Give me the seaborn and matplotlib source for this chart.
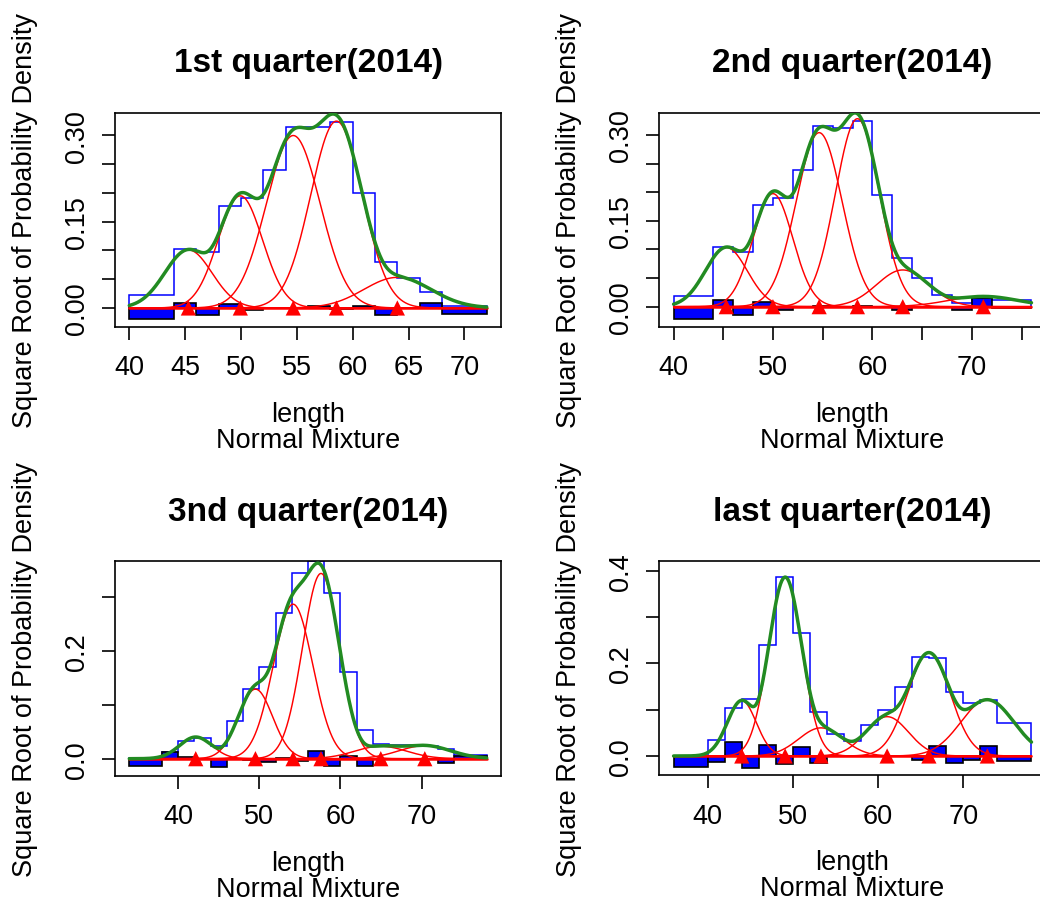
import numpy as np
import matplotlib
matplotlib.use("Agg")
import matplotlib.pyplot as plt
import seaborn as sns

# ---------------- data ----------------
titles = ["1st quarter(2014)", "2nd quarter(2014)", "3nd quarter(2014)", "last quarter(2014)"]

# 1st quarter
q1_edges = [40, 44, 46, 48, 50, 52, 54, 56, 58, 60, 62, 64, 66, 68, 72]
q1_hist = [0.0226, 0.1024, 0.0978, 0.1777, 0.1904, 0.2402, 0.3148, 0.3142, 0.3235,
           0.1997, 0.0793, 0.0515, 0.0284, 0.0040]
q1_resid = [-0.0191, 0.0093, -0.0116, 0.0070, -0.0040, 0.0, 0.0, 0.0030, -0.0010,
            0.0030, -0.0120, 0.0, 0.0090, -0.0100]
q1_prop = [0.038, 0.134, 0.382, 0.430, 0.015]
q1_mean = [45.29, 49.94, 54.68, 58.55, 64.00]
q1_sd = [1.49, 1.41, 1.70, 1.63, 2.12]
q1_xticks = [40, 45, 50, 55, 60, 65, 70]
q1_xlabels = ["40", "45", "50", "55", "60", "65", "70"]
q1_yticks = [0.0, 0.05, 0.10, 0.15, 0.20, 0.25, 0.30]
q1_ylabels = ["0.00", "", "", "0.15", "", "", "0.30"]
q1_ylim = (-0.0325, 0.3385)

# 2nd quarter
q2_edges = [40, 44, 46, 48, 50, 52, 54, 56, 58, 60, 62, 64, 66, 68, 70, 72, 76]
q2_hist = [0.0192, 0.1049, 0.0961, 0.1777, 0.1894, 0.2394, 0.3163, 0.3122, 0.3250,
           0.1957, 0.0846, 0.0496, 0.0204, 0.0060, 0.0147, 0.0117]
q2_resid = [-0.0215, 0.0117, -0.0140, 0.0080, -0.0050, 0.0, 0.0010, 0.0, 0.0020,
            0.0, -0.0060, 0.0, 0.0, -0.0060, 0.0147, -0.0030]
q2_prop = [0.040, 0.138, 0.378, 0.422, 0.019, 0.002]
q2_mean = [45.30, 49.99, 54.64, 58.49, 63.05, 71.16]
q2_sd = [1.49, 1.41, 1.63, 1.56, 1.84, 2.47]
q2_xticks = [40, 45, 50, 55, 60, 65, 70, 75]
q2_xlabels = ["40", "", "50", "", "60", "", "70", ""]
q2_yticks = [0.0, 0.05, 0.10, 0.15, 0.20, 0.25, 0.30]
q2_ylabels = ["0.00", "", "", "0.15", "", "", "0.30"]
q2_ylim = (-0.035, 0.3385)

# 3rd quarter
q3_edges = [34, 38, 40, 42, 44, 46, 48, 50, 52, 54, 56, 58, 60, 62, 64, 66, 68, 70, 72, 74, 78]
q3_hist = [0.0020, 0.0120, 0.0333, 0.0383, 0.0241, 0.0693, 0.1290, 0.1704, 0.2692, 0.3433,
           0.3655, 0.3063, 0.1611, 0.0531, 0.0270, 0.0250, 0.0260, 0.0240, 0.0180, 0.0060]
q3_resid = [-0.0130, 0.0117, 0.0040, 0.0, -0.0160, 0.0, -0.0030, -0.0055, 0.0020, -0.0040,
            0.0142, -0.0130, 0.0055, -0.0130, 0.0, 0.0, 0.0, 0.0, -0.0080, 0.0056]
q3_prop = [0.0057, 0.062, 0.353, 0.472, 0.0030, 0.0033]
q3_mean = [42.18, 49.53, 54.16, 57.60, 64.96, 70.38]
q3_sd = [1.41, 1.49, 1.72, 1.60, 2.26, 2.26]
q3_xticks = [40, 50, 60, 70]
q3_xlabels = ["40", "50", "60", "70"]
q3_yticks = [0.0, 0.1, 0.2, 0.3]
q3_ylabels = ["0.0", "", "0.2", ""]
q3_ylim = (-0.0315, 0.3656)

# last quarter
q4_edges = [36, 40, 42, 44, 46, 48, 50, 52, 54, 56, 58, 60, 62, 64, 66, 68, 70, 72, 74, 78]
q4_hist = [0.0, 0.0346, 0.1046, 0.1226, 0.2394, 0.3857, 0.2646, 0.0951, 0.0484, 0.0324,
           0.0664, 0.0995, 0.1492, 0.2141, 0.2106, 0.1392, 0.1154, 0.1210, 0.0707]
q4_resid = [-0.0230, -0.0123, 0.0303, -0.0252, 0.0238, -0.0166, 0.0195, -0.0159, 0.0, 0.0,
            0.0, 0.0, 0.0, -0.0090, 0.0216, -0.0144, -0.0094, 0.0216, -0.0115]
q4_prop = [0.043, 0.515, 0.017, 0.032, 0.220, 0.081]
q4_mean = [44.00, 49.09, 53.29, 61.06, 65.96, 72.82]
q4_sd = [1.20, 1.38, 1.84, 1.77, 1.77, 2.19]
q4_xticks = [40, 50, 60, 70]
q4_xlabels = ["40", "50", "60", "70"]
q4_yticks = [0.0, 0.1, 0.2, 0.3, 0.4]
q4_ylabels = ["0.0", "", "0.2", "", "0.4"]
q4_ylim = (-0.0417, 0.4203)

panels = [
    dict(edges=q1_edges, hist=q1_hist, resid=q1_resid, prop=q1_prop, mean=q1_mean, sd=q1_sd,
         xticks=q1_xticks, xlabels=q1_xlabels, yticks=q1_yticks, ylabels=q1_ylabels, ylim=q1_ylim),
    dict(edges=q2_edges, hist=q2_hist, resid=q2_resid, prop=q2_prop, mean=q2_mean, sd=q2_sd,
         xticks=q2_xticks, xlabels=q2_xlabels, yticks=q2_yticks, ylabels=q2_ylabels, ylim=q2_ylim),
    dict(edges=q3_edges, hist=q3_hist, resid=q3_resid, prop=q3_prop, mean=q3_mean, sd=q3_sd,
         xticks=q3_xticks, xlabels=q3_xlabels, yticks=q3_yticks, ylabels=q3_ylabels, ylim=q3_ylim),
    dict(edges=q4_edges, hist=q4_hist, resid=q4_resid, prop=q4_prop, mean=q4_mean, sd=q4_sd,
         xticks=q4_xticks, xlabels=q4_xlabels, yticks=q4_yticks, ylabels=q4_ylabels, ylim=q4_ylim),
]

# ---------------- style ----------------
sns.set_style("ticks")
plt.rcParams["font.family"] = ["Liberation Sans", "DejaVu Sans"]
plt.rcParams["text.color"] = "black"
plt.rcParams["axes.labelcolor"] = "black"

W, H = 1040, 903
# plot boxes in pixels: left, top, right, bottom
boxes = [(115, 114, 501, 327.7), (659.3, 114, 1045.8, 327.7),
         (115, 562.3, 501, 776.7), (659.3, 562.3, 1045.8, 776.3)]

fig = plt.figure(figsize=(W / 100, H / 100), dpi=100)


def comp_density(x, p, m, s):
    z = (x - m) / s
    return p * np.exp(-0.5 * z * z) / (s * np.sqrt(2 * np.pi))


for (l, t, r, b), pan, title in zip(boxes, panels, titles):
    ax = fig.add_axes([l / W, 1 - b / H, (r - l) / W, (b - t) / H])
    edges = np.array(pan["edges"], dtype=float)
    mids = (edges[:-1] + edges[1:]) / 2
    widths = np.diff(edges)

    # observed histogram (square-root scale), step outline
    ax.stairs(pan["hist"], edges, baseline=0, color="blue", linewidth=1.1, zorder=1)
    # residual bars
    ax.bar(mids, pan["resid"], width=widths, color="blue", edgecolor="black",
           linewidth=1.2, zorder=2)

    xs = np.linspace(edges[0], edges[-1], 600)
    total = np.zeros_like(xs)
    for p, m, s in zip(pan["prop"], pan["mean"], pan["sd"]):
        d = comp_density(xs, p, m, s)
        total += d
        sns.lineplot(x=xs, y=np.sqrt(d), color="red", linewidth=1.05, ax=ax,
                     estimator=None, zorder=3)
    sns.lineplot(x=[edges[0], edges[-1]], y=[0, 0], color="red", linewidth=1.8,
                 ax=ax, estimator=None, zorder=3)
    sns.lineplot(x=xs, y=np.sqrt(total), color="#228B22", linewidth=2.5, ax=ax,
                 estimator=None, zorder=4)
    sns.scatterplot(x=pan["mean"], y=np.zeros(len(pan["mean"])), marker="^", s=120,
                    color="red", edgecolor="none", ax=ax, zorder=5)

    span = edges[-1] - edges[0]
    ax.set_xlim(edges[0] - 0.04 * span, edges[-1] + 0.04 * span)
    ax.set_ylim(*pan["ylim"])
    ax.set_xlabel("")
    ax.set_ylabel("")

    for sp in ax.spines.values():
        sp.set_visible(True)
        sp.set_color("black")
        sp.set_linewidth(1.2)

    ax.set_xticks(pan["xticks"])
    ax.set_xticklabels(pan["xlabels"])
    ax.set_yticks(pan["yticks"])
    ax.set_yticklabels(pan["ylabels"], rotation=90, va="center")
    ax.tick_params(axis="both", direction="out", length=9.5, width=1.2,
                   labelsize=19.5, colors="black")
    ax.tick_params(axis="x", pad=10.5)
    ax.tick_params(axis="y", pad=8.5)

    ax.annotate(title, xy=(0.5, 1), xycoords="axes fraction", xytext=(0, 36),
                textcoords="offset points", ha="center", va="center",
                fontsize=24, fontweight="bold", color="black")
    ax.annotate("length", xy=(0.5, 0), xycoords="axes fraction", xytext=(0, -62.6),
                textcoords="offset points", ha="center", va="center", fontsize=19.5,
                color="black")
    ax.annotate("Normal Mixture", xy=(0.5, 0), xycoords="axes fraction", xytext=(0, -81.4),
                textcoords="offset points", ha="center", va="center", fontsize=19.5,
                color="black")
    ax.annotate("Square Root of Probability Density", xy=(0, 0.5), xycoords="axes fraction",
                xytext=(-64.8, 0), textcoords="offset points", ha="center", va="center",
                rotation=90, fontsize=19.5, color="black")

fig.savefig("out.png", dpi=100)
